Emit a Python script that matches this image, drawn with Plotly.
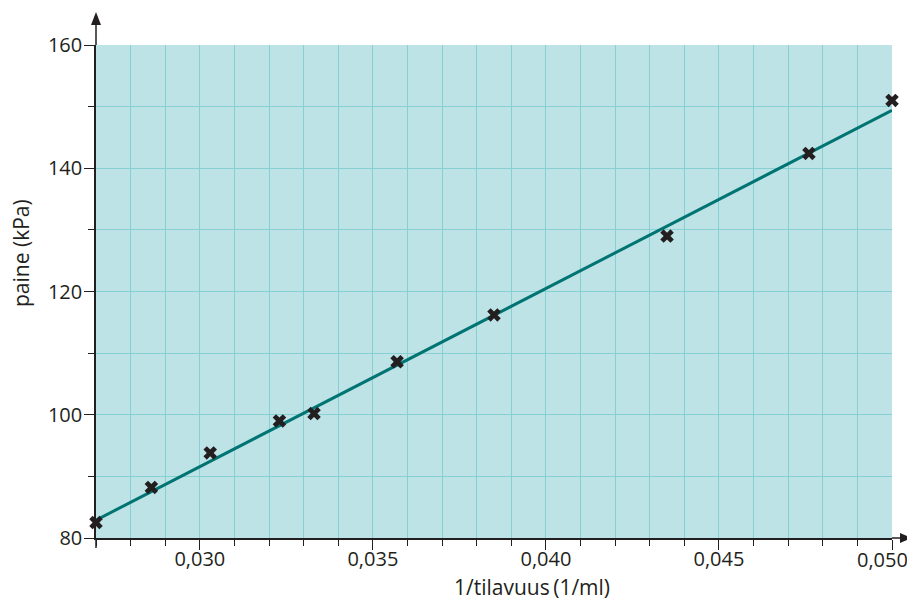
import plotly.graph_objects as go

# data
inv_volume = [0.0270, 0.0286, 0.0303, 0.0323, 0.0333, 0.0357, 0.0385, 0.0435, 0.0476, 0.0500]
pressure = [82.5, 88.2, 93.8, 99.0, 100.2, 108.6, 116.2, 129.0, 142.4, 151.0]
fit_x = [0.027, 0.050]
fit_y = [82.9, 149.4]
x_ticks = [0.030, 0.035, 0.040, 0.045, 0.050]
x_ticktext = ["0,030", "0,035", "0,040", "0,045", ""]
x_last_label = "0,050"
y_ticks = [80, 100, 120, 140, 160]

# page body has an 8 px margin, so the figure is offset by 8 px
OFF = 8
W, H = 915 - OFF, 600 - OFF
L, R, T, B = 96 - OFF, 23, 45 - OFF, 62
PW, PH = W - L - R, H - T - B

FONT = "Open Sans"
TXT = "#231f20"
BG = "#bde3e6"
GRID = "#86cfd3"
LINE = "#007472"


def px(v):
    return v / PW


def py(v):
    return v / PH


fig = go.Figure()
fig.add_trace(go.Scatter(x=fit_x, y=fit_y, mode="lines",
                         line=dict(color=LINE, width=3), hoverinfo="skip",
                         showlegend=False))
fig.add_trace(go.Scatter(x=inv_volume, y=pressure, mode="markers",
                         marker=dict(symbol="x", size=12, color=TXT,
                                     line=dict(width=0)),
                         cliponaxis=False, showlegend=False))

axis_common = dict(
    showline=True, linecolor=TXT, linewidth=1.5,
    ticks="outside", ticklen=10, tickwidth=1.2, tickcolor=TXT,
    showgrid=True, gridcolor=GRID, gridwidth=1,
    zeroline=False,
    tickfont=dict(family=FONT, size=20, color=TXT),
)

fig.update_xaxes(range=[0.027, 0.0500001], tickmode="array", tickvals=x_ticks,
                 ticktext=x_ticktext, ticklabelstandoff=-8,
                 minor=dict(dtick=0.001, tick0=0.027, ticks="outside", ticklen=6,
                            tickwidth=1.2, tickcolor=TXT, showgrid=True,
                            gridcolor=GRID, gridwidth=1),
                 **axis_common)
fig.update_yaxes(range=[80, 160], tickmode="array", tickvals=y_ticks,
                 ticklabelstandoff=-2,
                 minor=dict(dtick=10, tick0=80, ticks="outside", ticklen=6,
                            tickwidth=1.2, tickcolor=TXT, showgrid=True,
                            gridcolor=GRID, gridwidth=1),
                 **axis_common)

shapes = [
    # y axis extension with arrow
    dict(type="line", xref="paper", yref="paper", x0=0, x1=0, y0=1, y1=1 + py(22),
         line=dict(color=TXT, width=1.5)),
    dict(type="path", xref="paper", yref="paper",
         path=f"M {-px(5)},{1 + py(20)} L 0,{1 + py(33)} L {px(5)},{1 + py(20)} Z",
         fillcolor=TXT, line=dict(width=0)),
    # y axis below origin
    dict(type="line", xref="paper", yref="paper", x0=0, x1=0, y0=0, y1=-py(10),
         line=dict(color=TXT, width=1.5)),
    # x axis extension with arrow
    dict(type="line", xref="paper", yref="paper", x0=1, x1=1 + px(12), y0=0, y1=0,
         line=dict(color=TXT, width=1.5)),
    dict(type="path", xref="paper", yref="paper",
         path=f"M {1 + px(8)},{py(5)} L {1 + px(20)},0 L {1 + px(8)},{-py(5)} Z",
         fillcolor=TXT, line=dict(width=0)),
]

annotations = [
    dict(text="paine (kPa)", xref="paper", yref="paper",
         x=(21 - 96) / PW, y=(538 - 253) / PH, textangle=-90,
         showarrow=False, xanchor="center", yanchor="middle",
         font=dict(family=FONT, size=21, color=TXT)),
    dict(text="1/tilavuus\u2009(1/ml)", xref="paper", yref="paper",
         x=(532 - 96) / PW, y=(538 - 587) / PH,
         showarrow=False, xanchor="center", yanchor="middle",
         font=dict(family=FONT, size=21, color=TXT)),
    # last x tick label, shifted left of its tick as in the reference
    dict(text=x_last_label, xref="paper", yref="paper",
         x=(882 - 96) / PW, y=(538 - 559) / PH,
         showarrow=False, xanchor="center", yanchor="middle",
         font=dict(family=FONT, size=20, color=TXT)),
]

fig.update_layout(
    width=W, height=H, autosize=False,
    margin=dict(l=L, r=R, t=T, b=B, pad=0),
    plot_bgcolor=BG, paper_bgcolor="white",
    separators=",.",
    shapes=shapes, annotations=annotations,
    showlegend=False,
)

fig.write_html("out.html")
